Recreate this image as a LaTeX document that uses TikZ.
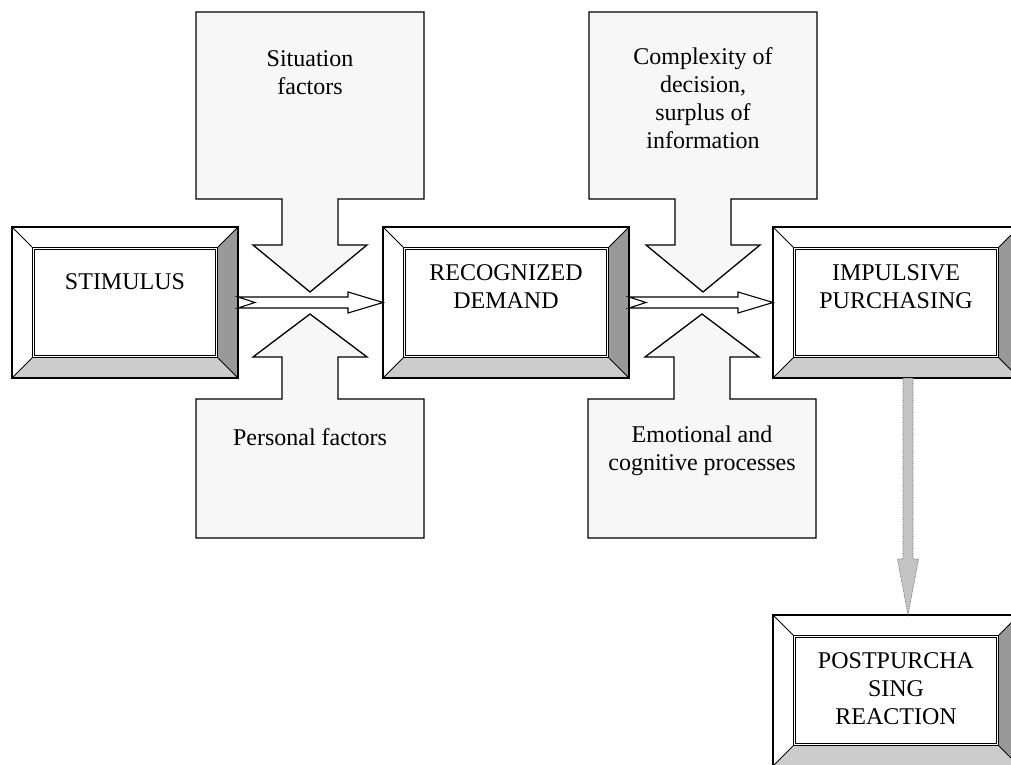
\documentclass[tikz,border=0pt]{standalone}
\usepackage{fontspec}
\setmainfont{Liberation Serif}
\usetikzlibrary{calc,positioning}
\definecolor{factfill}{HTML}{F7F7F7}
\definecolor{bevdark}{HTML}{999999}
\definecolor{bevlight}{HTML}{CCCCCC}
\definecolor{downfill}{HTML}{C4C4C4}
\newcommand{\bev}{20pt}
\tikzset{
    framesty/.style={rectangle,inner sep=0pt,outer sep=0pt,minimum height=151pt},
    outsty/.style={draw=black,line width=1.3pt},
    insty/.style={draw=black,line width=1.1pt,double=white,double distance=1.3pt},
    diagsty/.style={draw=black,line width=1pt},
    textsty/.style={font=\fontsize{24}{28}\selectfont,align=center,inner sep=0pt},
    factsty/.style={draw=black,fill=factfill,line width=1.3pt,line join=miter},
    flowsty/.style={draw=black,fill=white,line width=1.1pt,line join=miter},
    downsty/.style={draw=gray!70!black,fill=downfill,line width=0.7pt,densely dotted},
}
% framed box with bevelled edge: name, position, width, text, text raise
\newcommand{\bevelbox}[5]{%
  \node[framesty,minimum width=#3] (#1) at (#2) {};
  \fill[white] (#1.north west) -- (#1.north east) -- ([shift={(-\bev,-\bev)}]#1.north east)
    -- ([shift={(\bev,-\bev)}]#1.north west) -- ([shift={(\bev,\bev)}]#1.south west) -- (#1.south west) -- cycle;
  \fill[bevdark] (#1.north east) -- (#1.south east) -- ([shift={(-\bev,\bev)}]#1.south east)
    -- ([shift={(-\bev,-\bev)}]#1.north east) -- cycle;
  \fill[bevlight] (#1.south west) -- (#1.south east) -- ([shift={(-\bev,\bev)}]#1.south east)
    -- ([shift={(\bev,\bev)}]#1.south west) -- cycle;
  \foreach \corner/\sx/\sy in {north west/1/-1, north east/-1/-1, south east/-1/1, south west/1/1}
    \draw[diagsty] (#1.\corner) -- ([shift={(\sx*\bev,\sy*\bev)}]#1.\corner);
  \draw[outsty] (#1.north west) rectangle (#1.south east);
  \draw[insty] ([shift={(\bev+1.6pt,-\bev-1.6pt)}]#1.north west) rectangle ([shift={(-\bev-1.6pt,\bev+1.6pt)}]#1.south east);
  \node[textsty] (#1-t) at ([yshift=#5]#1.center) {#4};
}
% callout with block arrow: tip x, tip y, side, head base, box near edge, box far edge
\newcommand{\factorshape}[6]{%
  \draw[factsty,shift={(#1,#2)},yscale=#3] (-114,#6) -- (114,#6) -- (114,#5) -- (28,#5) -- (28,#4)
    -- (57,#4) -- (0,0) -- (-57,#4) -- (-28,#4) -- (-28,#5) -- (-114,#5) -- cycle;
}
% notched block arrow from one box to the next
\newcommand{\flowarrow}[2]{%
  \draw[flowsty] let \p1=(#1.east), \p2=(#2.west) in
    (\x1,\y1+5.5pt) -- (\x2-35pt,\y1+5.5pt) -- (\x2-35pt,\y1+10.5pt) -- (\x2,\y1)
    -- (\x2-35pt,\y1-10.5pt) -- (\x2-35pt,\y1-5.5pt) -- (\x1,\y1-5.5pt) -- (\x1+17pt,\y1) -- cycle;
}

\begin{document}
\begin{tikzpicture}[x=1pt,y=1pt]
\useasboundingbox (0,0) rectangle (1011,764);
\fill[white] (0,0) rectangle (1011,764);

\factorshape{310}{472}{1}{47}{93}{280}
\factorshape{703}{472}{1}{47}{93}{280}
\factorshape{310}{450}{-1}{43}{85}{224}
\factorshape{702}{450}{-1}{43}{85}{224}
\node[textsty] (sit-t)  at (310,691)   {Situation\\factors};
\node[textsty] (comp-t) at (703,665.5) {Complexity of\\decision,\\surplus of\\information};
\node[textsty] (pers-t) at (310,327)   {Personal factors};
\node[textsty] (emo-t)  at (702,313)   {Emotional and\\cognitive processes};

\bevelbox{stim}{125,461.5}{226pt}{STIMULUS}{20.5pt}
\bevelbox{recog}{506,461.5}{246pt}{RECOGNIZED\\DEMAND}{15.5pt}
\bevelbox{impul}{896,461.5}{246pt}{IMPULSIVE\\PURCHASING}{15.5pt}
\bevelbox{post}{896,73.5}{246pt}{POSTPURCHA\\SING\\REACTION}{1.5pt}

\flowarrow{stim}{recog}
\flowarrow{recog}{impul}

\draw[downsty] let \p1=([xshift=12pt]impul.south), \p2=([xshift=12pt]post.north) in
  (\x1-5pt,\y1) -- (\x1-5pt,\y2+56pt) -- (\x1-10.5pt,\y2+56pt) -- (\x2,\y2)
  -- (\x1+10.5pt,\y2+56pt) -- (\x1+5pt,\y2+56pt) -- (\x1+5pt,\y1) -- cycle;
\end{tikzpicture}
\end{document}
